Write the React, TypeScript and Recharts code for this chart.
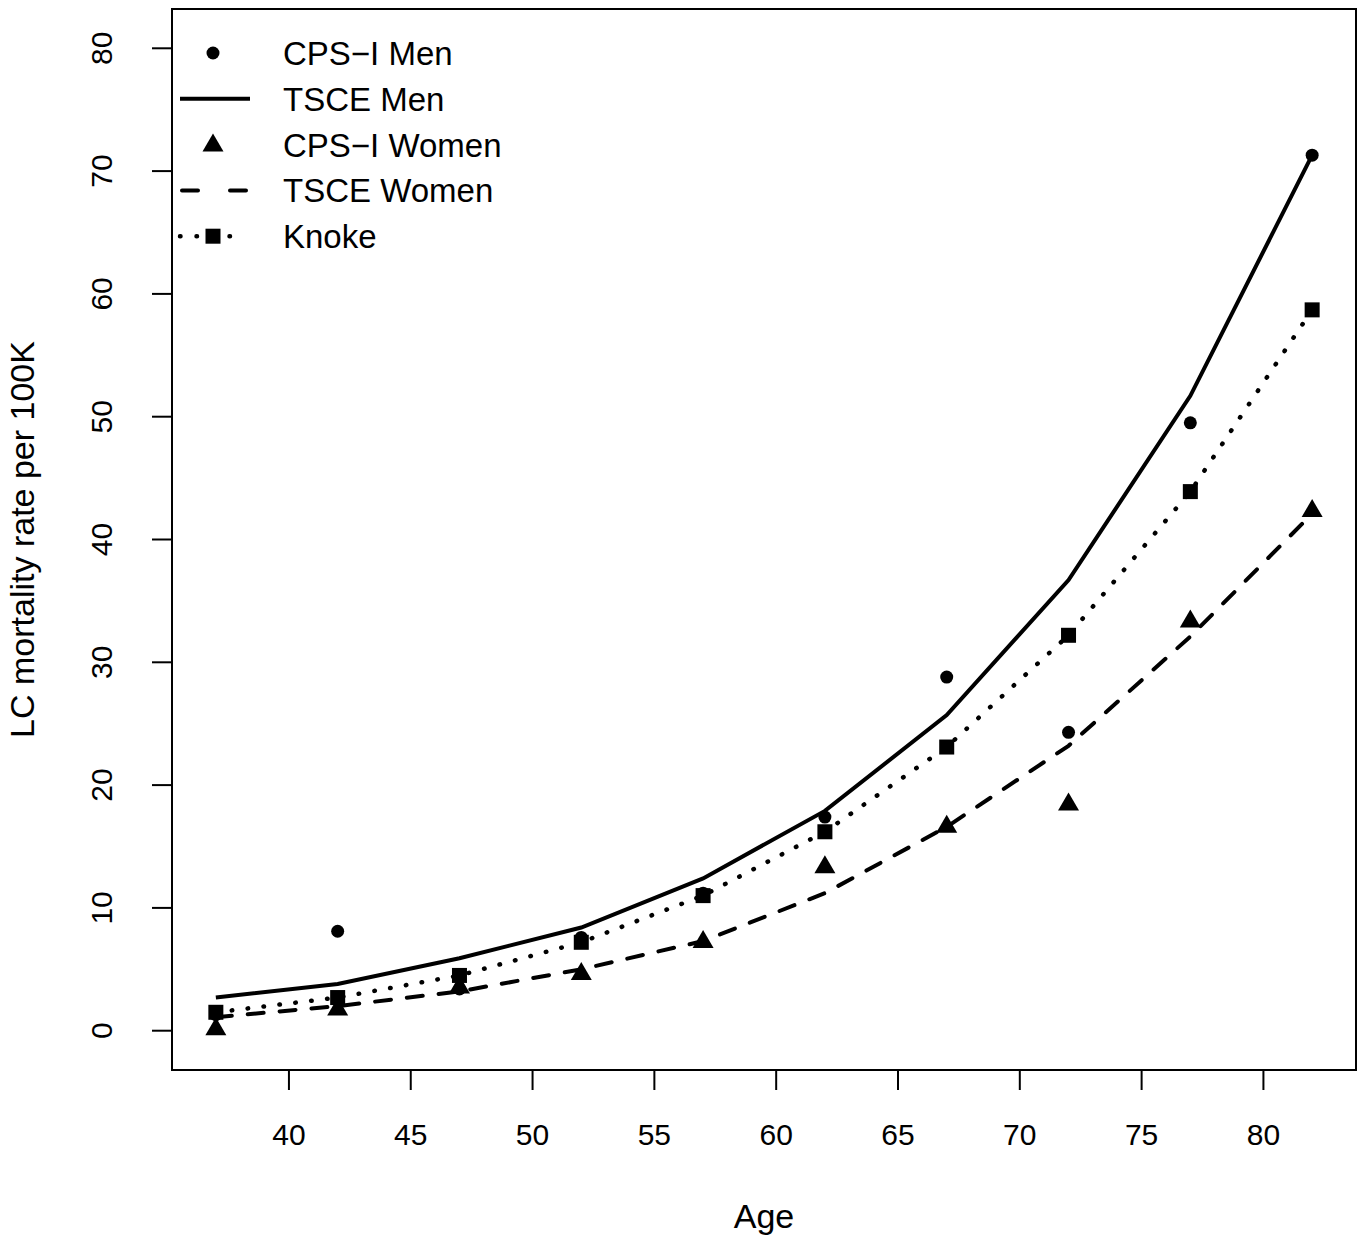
import {
  ComposedChart,
  Line,
  Scatter,
  XAxis,
  YAxis,
  Legend,
  ReferenceArea,
} from "recharts";

const ages = [37, 42, 47, 52, 57, 62, 67, 72, 77, 82];
const cpsMen = [1.3, 8.1, 3.4, 7.6, 11.2, 17.4, 28.8, 24.3, 49.5, 71.3];
const tsceMen = [2.7, 3.8, 5.9, 8.4, 12.4, 17.9, 25.7, 36.7, 51.7, 71.3];
const cpsWomen = [0.2, 1.8, 3.6, 4.7, 7.3, 13.4, 16.7, 18.5, 33.4, 42.4];
const tsceWomen = [1.1, 2.0, 3.2, 5.0, 7.3, 11.2, 16.6, 23.2, 32.1, 42.1];
const knoke = [1.5, 2.7, 4.5, 7.2, 11.0, 16.2, 23.1, 32.2, 43.9, 58.7];

const xTicks = [40, 45, 50, 55, 60, 65, 70, 75, 80];
const yTicks = [0, 10, 20, 30, 40, 50, 60, 70, 80];
const legendLabels = ["CPS\u2212I Men", "TSCE Men", "CPS\u2212I Women", "TSCE Women", "Knoke"];

const rows = ages.map((age, i) => ({
  age,
  cpsMen: cpsMen[i],
  tsceMen: tsceMen[i],
  cpsWomen: cpsWomen[i],
  tsceWomen: tsceWomen[i],
  knoke: knoke[i],
}));

const FONT = "'Liberation Sans', Arial, Helvetica, sans-serif";

const circle = (props: any) => <circle cx={props.cx} cy={props.cy} r={6.5} fill="#000" />;
const triangle = (props: any) => {
  const { cx, cy } = props;
  return <polygon points={`${cx - 10.5},${cy + 7} ${cx + 10.5},${cy + 7} ${cx},${cy - 11}`} fill="#000" />;
};
const square = (props: any) => {
  const { cx, cy } = props;
  if (cx == null || cy == null) return null;
  return <rect x={cx - 7.5} y={cy - 7.5} width={15} height={15} fill="#000" />;
};

function XTick(props: any) {
  const { x, y, payload } = props;
  return (
    <text x={x} y={y + 53} textAnchor="middle" fontSize={30} fontFamily={FONT} fill="#000">
      {payload.value}
    </text>
  );
}

function YTick(props: any) {
  const { x, y, payload } = props;
  const bx = x - 38;
  return (
    <text x={bx} y={y} transform={`rotate(-90, ${bx}, ${y})`} textAnchor="middle" fontSize={30} fontFamily={FONT} fill="#000">
      {payload.value}
    </text>
  );
}

function LegendBox() {
  const rowY = (i: number) => 53 + i * 45.8;
  return (
    <svg width={600} height={270} style={{ display: "block" }}>
      <circle cx={213} cy={rowY(0)} r={6.5} fill="#000" />
      <line x1={180} x2={250} y1={rowY(1)} y2={rowY(1)} stroke="#000" strokeWidth={4} />
      {triangle({ cx: 213, cy: rowY(2) })}
      <line x1={182} x2={250} y1={rowY(3)} y2={rowY(3)} stroke="#000" strokeWidth={4} strokeDasharray="16 32" strokeLinecap="round" />
      <line x1={180} x2={240} y1={rowY(4)} y2={rowY(4)} stroke="#000" strokeWidth={4.5} strokeDasharray="0.5 16" strokeLinecap="round" />
      <rect x={205.5} y={rowY(4) - 7.5} width={15} height={15} fill="#000" />
      {legendLabels.map((t, i) => (
        <text key={t} x={283} y={rowY(i) + 12} fontSize={33} fontFamily={FONT} fill="#000">
          {t}
        </text>
      ))}
    </svg>
  );
}

export default function App() {
  return (
    <div style={{ position: "absolute", left: 0, top: 0, background: "#fff" }}>
      <ComposedChart width={1365} height={1236} data={rows} margin={{ top: 9, right: 9, bottom: 0, left: 0 }}>
        <XAxis
          dataKey="age"
          type="number"
          domain={[35.2, 83.8]}
          ticks={xTicks}
          allowDataOverflow
          axisLine={false}
          tickLine={{ stroke: "#000", strokeWidth: 2 }}
          tickSize={20}
          tick={<XTick />}
          height={166}
          label={{ value: "Age", position: "insideBottom", offset: 8, fontSize: 34, fontFamily: FONT, fill: "#000" }}
        />
        <YAxis
          type="number"
          domain={[-3.2, 83.2]}
          ticks={yTicks}
          allowDataOverflow
          axisLine={false}
          tickLine={{ stroke: "#000", strokeWidth: 2 }}
          tickSize={20}
          tick={<YTick />}
          width={172}
          label={{
            value: "LC mortality rate per 100K",
            angle: -90,
            position: "insideLeft",
            offset: 22,
            style: { textAnchor: "middle" },
            fontSize: 34,
            fontFamily: FONT,
            fill: "#000",
          }}
        />
        <ReferenceArea x1={35.2} x2={83.8} y1={-3.2} y2={83.2} fill="none" fillOpacity={0} stroke="#000" strokeWidth={2} ifOverflow="visible" />
        <Scatter dataKey="cpsMen" shape={circle} isAnimationActive={false} />
        <Line dataKey="tsceMen" stroke="#000" strokeWidth={4} dot={false} activeDot={false} isAnimationActive={false} />
        <Scatter dataKey="cpsWomen" shape={triangle} isAnimationActive={false} />
        <Line dataKey="tsceWomen" stroke="#000" strokeWidth={4} strokeDasharray="16 16" strokeLinecap="round" dot={false} activeDot={false} isAnimationActive={false} />
        <Line dataKey="knoke" stroke="#000" strokeWidth={4.5} strokeDasharray="0.5 15.5" strokeLinecap="round" dot={square} activeDot={false} isAnimationActive={false} />
        <Legend layout="vertical" align="center" verticalAlign="middle" wrapperStyle={{ left: 0, top: 0, width: 600, height: 270 }} content={<LegendBox />} />
      </ComposedChart>
    </div>
  );
}
